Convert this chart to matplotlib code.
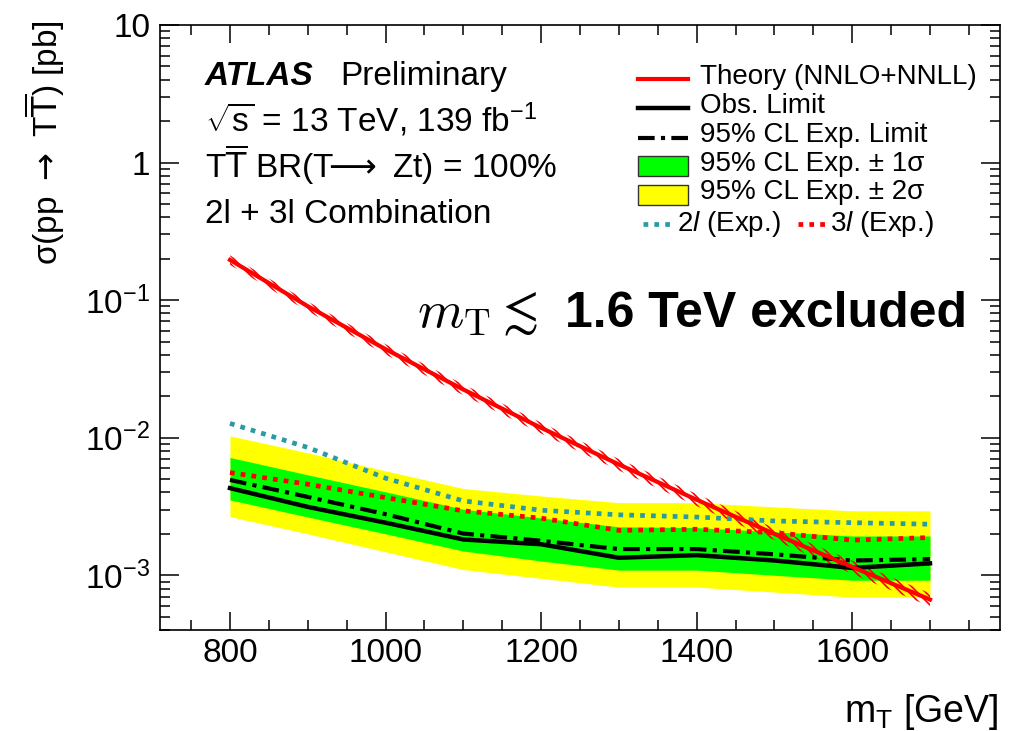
import matplotlib
matplotlib.use("Agg")
import matplotlib.pyplot as plt
from matplotlib.lines import Line2D
from matplotlib.patches import Rectangle
from matplotlib.ticker import FixedLocator, FixedFormatter, NullFormatter, LogLocator, MultipleLocator

plt.rcParams["font.family"] = ["Liberation Sans", "DejaVu Sans"]
plt.rcParams["mathtext.fontset"] = "custom"
plt.rcParams["mathtext.rm"] = "Liberation Sans"
plt.rcParams["mathtext.it"] = "Liberation Sans:italic"
plt.rcParams["mathtext.bf"] = "Liberation Sans:bold"
plt.rcParams["mathtext.sf"] = "Liberation Sans"
plt.rcParams["hatch.linewidth"] = 1.2

# T-quark mass points [GeV]
mass = [800, 900, 1000, 1100, 1200, 1300, 1400, 1500, 1600, 1700]

# pair-production cross section (NNLO+NNLL) [pb] and relative uncertainty
theory = [0.196, 0.0903, 0.0440, 0.0224, 0.0118, 0.00639, 0.00354, 0.00200, 0.00115, 0.000666]
theory_unc = [0.08, 0.08, 0.085, 0.09, 0.09, 0.095, 0.10, 0.10, 0.11, 0.11]

# 95% CL limits [pb]
obs = [4.30e-3, 3.14e-3, 2.41e-3, 1.82e-3, 1.68e-3, 1.34e-3, 1.40e-3, 1.28e-3, 1.13e-3, 1.22e-3]
exp = [4.93e-3, 3.71e-3, 2.78e-3, 2.01e-3, 1.78e-3, 1.55e-3, 1.55e-3, 1.42e-3, 1.28e-3, 1.31e-3]
exp_p1 = [7.18e-3, 5.37e-3, 4.04e-3, 3.02e-3, 2.61e-3, 2.25e-3, 2.22e-3, 2.07e-3, 1.93e-3, 1.93e-3]
exp_m1 = [3.53e-3, 2.65e-3, 2.00e-3, 1.50e-3, 1.27e-3, 1.09e-3, 1.09e-3, 1.00e-3, 9.2e-4, 9.2e-4]
exp_p2 = [1.03e-2, 7.76e-3, 5.74e-3, 4.27e-3, 3.77e-3, 3.37e-3, 3.37e-3, 3.14e-3, 2.94e-3, 2.94e-3]
exp_m2 = [2.67e-3, 2.00e-3, 1.48e-3, 1.10e-3, 9.5e-4, 8.2e-4, 8.2e-4, 7.55e-4, 6.93e-4, 6.93e-4]

# expected limits of the single channels [pb]
exp_2l = [1.27e-2, 8.49e-3, 5.08e-3, 3.47e-3, 2.97e-3, 2.75e-3, 2.65e-3, 2.48e-3, 2.41e-3, 2.35e-3]
exp_3l = [5.58e-3, 4.59e-3, 3.67e-3, 2.94e-3, 2.60e-3, 2.12e-3, 2.16e-3, 2.04e-3, 1.80e-3, 1.88e-3]

y_ticks = [1e-3, 1e-2, 1e-1, 1, 10]
y_tick_labels = ["10$^{-3}$", "10$^{-2}$", "10$^{-1}$", "1", "10"]

TEAL = "#2b9ba3"
W, H = 1018, 731


def fx(x):
    return x / W


def fy(y):
    return 1 - y / H


fig = plt.figure(figsize=(W / 100, H / 100), dpi=100)
ax = fig.add_axes([fx(160), fy(630), 840 / W, 605 / H])

ax.fill_between(mass, exp_m2, exp_p2, color="#ffff00", lw=0)
ax.fill_between(mass, exp_m1, exp_p1, color="#00ff00", lw=0)
ax.plot(mass, exp_2l, color=TEAL, lw=3.4, ls=(0, (1, 1.3)), dash_capstyle="butt")
ax.plot(mass, exp_3l, color="red", lw=3.4, ls=(0, (1, 1.3)), dash_capstyle="butt")
ax.plot(mass, exp, color="black", lw=3, ls=(0, (4, 1.5, 1, 1.5)), dash_capstyle="butt")
ax.plot(mass, obs, color="black", lw=3.2)

th_lo = [t * (1 - u) for t, u in zip(theory, theory_unc)]
th_hi = [t * (1 + u) for t, u in zip(theory, theory_unc)]
ax.fill_between(mass, th_lo, th_hi, facecolor="none", edgecolor="red", hatch="\\\\\\\\", lw=0)
ax.plot(mass, theory, color="red", lw=3)

ax.set_yscale("log")
ax.set_xlim(710, 1790)
ax.set_ylim(4e-4, 10)
ax.xaxis.set_major_locator(MultipleLocator(200))
ax.xaxis.set_minor_locator(MultipleLocator(50))
ax.yaxis.set_major_locator(FixedLocator(y_ticks))
ax.yaxis.set_major_formatter(FixedFormatter(y_tick_labels))
ax.yaxis.set_minor_locator(LogLocator(base=10, subs=range(2, 10), numticks=20))
ax.yaxis.set_minor_formatter(NullFormatter())
ax.tick_params(which="both", direction="in", top=True, right=True, width=1.1, labelsize=24)
ax.tick_params(axis="x", which="major", length=13, pad=6)
ax.tick_params(axis="x", which="minor", length=7)
ax.tick_params(axis="y", which="major", length=14, pad=7)
ax.tick_params(axis="y", which="minor", length=7)
for s in ax.spines.values():
    s.set_linewidth(1.2)

fig.text(fx(998), fy(722), r"m$_{\mathrm{T}}$ [GeV]", fontsize=27, ha="right", va="baseline")
fig.text(fx(45), fy(20), r"σ(pp $\rightarrow$ T$\overline{\mathrm{T}}$) [pb]", fontsize=24,
         rotation=90, ha="center", va="top", math_fontfamily="dejavusans")

# header
hdr_fs = 24
fig.text(fx(205), fy(85), "ATLAS", fontsize=hdr_fs, fontweight="bold", fontstyle="italic", va="baseline")
fig.text(fx(340), fy(85), "Preliminary", fontsize=hdr_fs, va="baseline")
fig.text(fx(205), fy(132), r"$\sqrt{\mathrm{s}}$ = 13 TeV, 139 fb$^{-1}$", fontsize=hdr_fs, va="baseline")
fig.text(fx(205), fy(178), r"T$\overline{\mathrm{T}}$ BR(T$\!\!\longrightarrow$ Zt) = 100%", fontsize=hdr_fs,
         va="baseline", math_fontfamily="dejavusans")
fig.text(fx(205), fy(223), "2l + 3l Combination", fontsize=hdr_fs, va="baseline")

# exclusion note
fig.text(fx(417), fy(327), r"$m_{\mathrm{T}} \lesssim$", fontsize=38, math_fontfamily="cm", va="baseline")
fig.text(fx(565), fy(327), "1.6 TeV excluded", fontsize=36, fontweight="bold", va="baseline")

# legend
leg_fs = 20
fig.add_artist(Line2D([fx(638), fx(688)], [fy(79), fy(79)], color="red", lw=3))
fig.text(fx(700), fy(84), "Theory (NNLO+NNLL)", fontsize=leg_fs, va="baseline")
fig.add_artist(Line2D([fx(638), fx(688)], [fy(108), fy(108)], color="black", lw=3.2))
fig.text(fx(700), fy(113), "Obs. Limit", fontsize=leg_fs, va="baseline")
fig.add_artist(Line2D([fx(638), fx(688)], [fy(138), fy(138)], color="black", lw=3,
                      ls=(0, (4, 1.5, 1, 1.5)), dash_capstyle="butt"))
fig.text(fx(700), fy(142), "95% CL Exp. Limit", fontsize=leg_fs, va="baseline")
fig.add_artist(Rectangle((fx(638), fy(176)), 50 / W, 20 / H, transform=fig.transFigure,
                         facecolor="#00ff00", edgecolor="#333333", lw=1))
fig.text(fx(700), fy(171), "95% CL Exp. ± 1σ", fontsize=leg_fs, va="baseline")
fig.add_artist(Rectangle((fx(638), fy(205)), 50 / W, 20 / H, transform=fig.transFigure,
                         facecolor="#ffff00", edgecolor="#333333", lw=1))
fig.text(fx(700), fy(199), "95% CL Exp. ± 2σ", fontsize=leg_fs, va="baseline")
fig.add_artist(Line2D([fx(643), fx(671)], [fy(224), fy(224)], color=TEAL, lw=3.4,
                      ls=(0, (1, 1.3)), dash_capstyle="butt"))
fig.text(fx(677), fy(231), "2$l$ (Exp.)", fontsize=leg_fs, va="baseline")
fig.add_artist(Line2D([fx(798), fx(827)], [fy(224), fy(224)], color="red", lw=3.4,
                      ls=(0, (1, 1.3)), dash_capstyle="butt"))
fig.text(fx(830), fy(231), "3$l$ (Exp.)", fontsize=leg_fs, va="baseline")

fig.savefig("out.png", dpi=100)
